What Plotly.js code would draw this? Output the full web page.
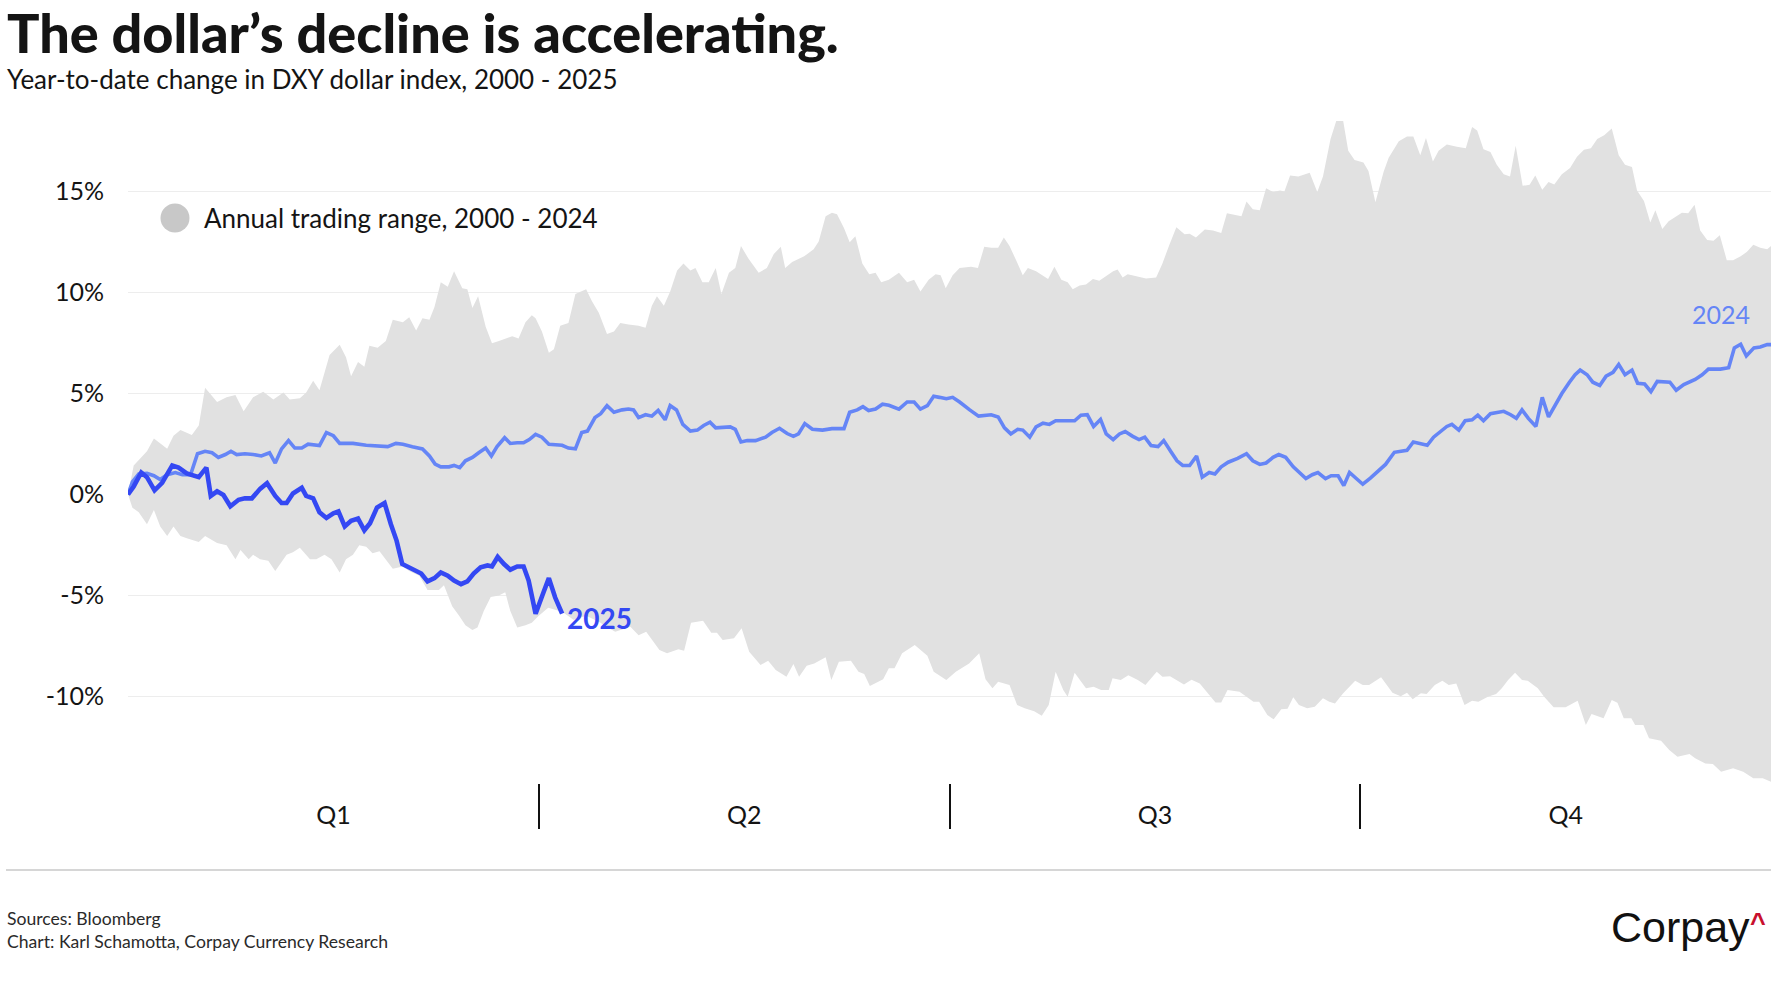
<!DOCTYPE html>
<html>
<head>
<meta charset="utf-8">
<script src="https://cdn.plot.ly/plotly-3.0.1.min.js"></script>
<style>
  html, body { margin: 0; padding: 0; background: #ffffff; }
  #chart { width: 1774px; height: 1000px; }
</style>
</head>
<body>
<div id="chart"></div>
<script>
// ---- Data (trading day of year, YTD % change) ----
const upperX = [0,0.9,3.0,4.1,6.2,7.2,8.3,10.1,11.2,12.2,14.1,15.6,17.0,18.3,19.8,21.4,23.0,24.6,25.6,27.2,28.2,29.3,30.3,31.9,33.5,34.5,35.3,36.4,37.4,38.2,39.5,40.8,41.9,43.5,44.5,45.6,46.6,47.7,48.5,49.5,50.6,51.6,52.9,53.7,54.5,55.4,56.6,57.6,58.7,59.7,60.8,61.8,62.9,63.9,
  64.5,65.5,66.6,67.4,68.4,69.7,70.8,72.5,73.4,74.5,75.8,76.9,77.9,79.2,80.8,81.9,82.9,83.7,84.8,85.8,86.9,87.9,89.0,89.8,90.9,91.9,93.0,93.9,95.1,96.1,97.0,98.2,99.8,101.1,102.2,103.3,104.0,105.1,107.0,108.5,109.3,110.4,111.4,112.2,113.3,114.2,115.1,116.2,117.3,118.3,119.2,120.4,122.0,123.3,124.4,125.4,126.7,127.8,128.6,129.4,
  130.5,131.6,133.4,134.5,135.5,136.6,137.7,138.6,139.5,140.6,141.6,142.4,143.7,145.6,146.6,147.7,148.7,149.5,150.6,151.6,152.7,153.7,154.8,155.9,156.6,157.4,158.2,159.6,161.1,162.7,163.7,164.8,165.9,167.2,168.0,169.0,170.4,171.7,173.0,173.9,175.1,176.2,177.0,178.0,179.1,180.1,181.2,182.3,183.0,183.9,185.2,186.2,187.0,188.2,189.1,190.3,191.2,192.3,193.1,194.1,
  195.5,196.3,197.4,198.7,199.5,201.1,202.4,203.4,204.5,205.4,206.5,207.4,208.7,210.3,211.7,212.7,213.5,214.5,215.6,216.6,217.7,218.7,219.6,220.7,221.8,222.7,223.8,224.8,225.7,226.9,228.2,229.3,230.4,231.5,232.5,233.6,234.8,235.9,236.9,238.0,238.8,239.9,240.9,241.7,242.8,243.8,244.9,245.9,246.9,247.9,248.8,249.9,250.9,251.9,253.0,254.0,255.2,256.2,257.2,258.3,259.4,260];
const upperY = [0,1.44,2.14,2.77,2.26,2.91,3.19,2.95,3.42,5.28,4.58,4.81,4.93,4.12,4.81,5.09,4.70,5.05,4.70,4.77,5.05,5.63,5.16,6.91,7.42,6.79,5.86,6.56,6.33,7.37,7.26,7.60,8.65,8.53,8.77,8.12,8.72,8.65,9.28,10.51,10.28,11.05,10.21,10.16,9.23,9.81,8.30,7.49,7.60,7.72,7.84,7.72,8.53,8.88,
  8.72,8.07,7.02,7.19,8.35,8.49,9.93,10.16,9.58,9.00,7.95,8.07,8.49,8.42,8.35,8.26,9.35,9.81,9.35,10.05,11.09,11.44,11.09,11.21,10.51,10.51,11.21,9.93,10.98,11.21,12.30,11.67,10.98,11.21,11.91,12.26,11.21,11.51,11.79,12.14,12.53,13.77,13.95,13.88,13.19,12.49,12.79,11.44,10.91,10.98,10.51,10.63,10.98,10.51,10.63,10.05,10.63,10.91,10.86,10.21,
  10.86,11.21,11.28,11.21,12.26,12.21,12.21,12.72,12.30,11.56,10.86,11.21,11.05,10.67,11.28,10.63,10.51,10.16,10.35,10.40,10.67,10.58,10.81,11.05,11.14,10.74,10.91,10.81,10.70,10.74,11.44,12.37,13.23,12.88,12.91,12.72,13.12,13.07,12.95,13.93,13.84,13.77,14.51,14.12,14.07,15.16,14.98,15.05,15.00,15.79,15.74,15.86,15.93,14.98,15.74,17.60,18.49,18.49,17.02,16.56,
  16.44,16.02,14.47,15.98,16.67,17.49,17.72,17.72,16.79,17.65,16.49,17.02,17.33,17.21,17.14,18.19,18.02,17.09,16.95,16.33,15.86,15.74,17.26,15.28,15.33,15.79,15.09,15.47,15.35,15.86,16.16,16.72,17.07,17.14,17.60,17.79,18.12,16.79,16.33,16.21,15.05,14.53,13.47,14.07,13.14,13.53,13.77,13.95,13.93,14.35,13.07,12.60,12.56,12.84,11.60,11.60,11.79,12.02,12.37,12.21,12.14,12.30];

const lowerX = [0,0.7,1.7,3.0,4.1,5.1,6.2,7.2,8.3,9.3,11.2,12.2,14.1,15.6,17.0,17.8,19.1,19.8,20.9,22.2,23.3,24.0,25.1,26.1,27.2,28.8,29.8,31.1,32.2,33.5,34.5,35.6,36.6,37.7,38.7,39.8,40.8,41.9,43.5,44.5,46.1,47.4,49.2,50.0,51.3,52.4,53.4,54.5,55.3,56.3,57.4,58.7,59.7,60.5,61.6,62.9,63.9,
  65.0,66.5,68.7,70.5,72.5,74.5,76.0,77.1,79.5,80.8,82.0,84.1,85.3,87.1,88.0,89.1,91.0,92.3,93.2,94.1,95.9,97.1,98.3,100.1,101.3,102.5,104.2,105.3,106.2,107.4,108.6,110.4,111.3,112.5,114.4,115.6,116.5,117.4,119.5,120.4,121.3,122.5,124.5,126.5,127.5,129.5,
  131.0,133.1,134.7,135.7,136.8,137.7,139.5,140.7,141.9,143.4,144.6,145.7,146.8,148.0,148.7,149.8,151.6,152.8,154.0,155.2,155.8,157.1,158.3,159.8,161.0,162.8,163.7,164.9,167.1,168.3,169.6,172.1,173.0,174.0,175.9,178.1,179.0,180.3,181.3,182.5,183.5,184.4,185.3,186.6,187.8,189.1,190.1,191.0,192.3,194.2,
  195.4,196.4,198.3,200.1,201.4,202.4,203.3,204.6,205.5,206.8,208.0,209.0,210.2,211.5,212.7,213.7,215.2,216.5,217.4,218.4,219.5,220.6,221.5,223.1,224.1,225.6,227.5,229.4,230.7,231.6,233.5,234.8,235.7,236.7,237.9,238.5,239.8,240.7,242.6,243.9,245.2,247.1,248.0,249.6,250.8,252.1,254.0,255.6,257.2,258.7,260];
const lowerY = [0,-0.65,-0.88,-1.47,-0.77,-1.58,-2.05,-1.58,-2.05,-2.16,-2.35,-2.05,-2.40,-2.51,-3.21,-2.74,-3.21,-2.98,-3.21,-3.28,-3.79,-3.44,-2.98,-2.86,-2.63,-3.21,-3.21,-2.98,-3.21,-3.86,-3.21,-2.98,-2.51,-2.58,-2.91,-2.81,-3.21,-3.67,-3.56,-3.79,-4.02,-4.72,-4.72,-4.49,-5.53,-6.00,-6.47,-6.70,-6.58,-5.77,-5.07,-5.00,-4.84,-5.77,-6.58,-6.47,-6.35,
  -6.00,-5.60,-5.80,-6.20,-6.00,-6.30,-6.60,-6.79,-6.54,-6.96,-6.79,-7.70,-7.86,-7.66,-7.73,-6.35,-6.25,-6.84,-6.84,-7.20,-7.12,-6.62,-7.78,-8.44,-8.23,-8.69,-9.02,-8.39,-9.02,-8.47,-8.36,-8.06,-9.18,-8.28,-8.23,-8.77,-8.89,-9.48,-9.15,-8.60,-8.60,-7.86,-7.45,-7.98,-8.77,-9.18,
  -8.77,-8.36,-7.86,-9.15,-9.59,-9.27,-9.43,-10.42,-10.58,-10.73,-10.95,-10.42,-8.77,-9.68,-10.01,-8.82,-9.59,-9.51,-9.68,-9.68,-9.10,-9.18,-8.94,-9.18,-9.43,-8.77,-9.02,-8.99,-9.40,-9.17,-9.35,-10.29,-10.29,-9.68,-9.76,-10.26,-10.26,-10.92,-11.13,-10.63,-10.60,-10.04,-10.42,-10.58,-10.50,-10.09,-10.26,-10.34,-9.84,-9.22,
  -9.43,-9.43,-9.05,-9.81,-9.98,-9.81,-10.14,-9.84,-9.88,-9.43,-9.22,-9.43,-9.35,-10.42,-10.21,-10.26,-10.01,-9.88,-9.59,-9.18,-8.82,-9.18,-9.22,-9.59,-10.01,-10.53,-10.53,-10.21,-11.41,-10.87,-11.08,-10.17,-10.31,-11.08,-11.08,-11.41,-11.41,-12.07,-12.19,-12.65,-12.98,-12.85,-13.06,-13.31,-13.34,-13.72,-13.55,-13.72,-14.05,-14.05,-14.22];

const x2024 = [0,0.7,1.7,3.0,4.1,5.1,6.2,7.5,8.6,9.9,11.0,12.2,13.3,14.3,15.4,16.3,17.2,18.5,19.8,21.1,22.4,23.3,24.3,25.4,26.4,27.5,28.5,30.3,31.4,32.5,33.5,35.6,37.7,39.8,41.1,42.4,43.5,45.0,46.6,47.7,48.6,49.5,50.8,51.6,52.5,53.4,54.5,55.5,56.6,57.5,58.4,59.6,60.5,61.6,62.6,63.5,64.5,
  65.5,66.6,68.7,69.7,70.8,71.8,72.7,73.9,74.8,75.8,76.9,78.2,79.2,80.0,80.8,81.9,82.9,83.9,85.0,85.8,86.8,87.8,89.0,90.1,91.1,92.1,93.0,94.3,95.3,96.1,97.0,98.0,99.3,100.9,101.9,103.1,104.3,105.3,106.1,107.1,108.3,109.9,111.4,113.3,114.2,115.4,116.3,117.2,118.3,119.4,120.4,122.0,123.3,124.4,125.4,126.5,127.5,128.4,129.5,
  130.5,131.6,133.2,134.6,136.6,137.7,138.7,139.7,140.8,141.6,142.7,143.7,144.8,145.8,146.8,148.5,149.8,150.8,151.8,152.8,153.9,154.8,155.9,156.9,157.8,159.0,160.0,160.9,161.9,163.0,163.9,165.1,166.0,166.9,168.0,169.1,170.0,171.1,172.0,173.0,174.1,175.6,177.0,178.0,179.1,180.1,181.2,182.1,183.2,184.4,185.3,186.4,187.4,188.3,189.5,190.4,191.5,192.4,193.3,194.5,
  195.4,196.6,197.6,199.0,200.4,202.4,203.4,205.6,206.6,207.6,208.7,209.5,210.6,211.6,212.7,213.6,214.5,215.6,216.6,217.7,218.8,219.7,220.6,221.6,222.8,223.8,224.8,225.9,226.9,228.1,229.0,229.8,230.9,231.8,232.9,233.9,235.0,235.9,236.9,238.0,238.9,240.0,241.0,242.0,244.0,245.0,246.2,248.0,249.1,250.1,252.0,253.3,254.2,255.2,256.1,257.3,258.3,259.4,260];
const y2024 = [0,0.63,1.02,1.05,0.93,0.74,0.98,1.09,0.98,0.98,2.02,2.14,2.07,1.84,1.98,2.14,1.98,2.02,1.98,1.91,2.07,1.56,2.26,2.67,2.30,2.30,2.49,2.42,3.07,2.91,2.53,2.53,2.44,2.42,2.37,2.53,2.49,2.37,2.26,1.91,1.51,1.37,1.37,1.44,1.33,1.67,1.84,2.07,2.30,1.91,2.37,2.81,2.53,2.56,2.56,2.72,2.98,
  2.84,2.49,2.44,2.30,2.26,3.07,3.14,3.81,4.00,4.40,4.07,4.19,4.23,4.19,3.81,3.95,3.88,4.16,3.70,4.40,4.19,3.47,3.14,3.19,3.42,3.58,3.30,3.35,3.35,3.23,2.60,2.67,2.67,2.84,3.07,3.28,3.02,2.88,3.00,3.51,3.23,3.19,3.26,3.26,4.07,4.19,4.35,4.16,4.23,4.47,4.42,4.23,4.58,4.58,4.23,4.40,4.86,4.81,4.74,
  4.81,4.58,4.19,3.88,3.95,3.84,3.30,3.00,3.23,3.19,2.84,3.35,3.53,3.47,3.65,3.65,3.65,3.93,3.95,3.37,3.72,3.00,2.72,3.00,3.12,2.88,2.72,2.84,2.42,2.37,2.67,2.09,1.67,1.44,1.44,1.91,0.86,1.09,1.02,1.37,1.60,1.79,2.02,1.67,1.49,1.56,1.84,1.98,1.84,1.37,1.09,0.79,0.98,1.09,0.79,0.93,0.93,0.44,1.09,0.74,
  0.51,0.81,1.09,1.49,2.09,2.19,2.60,2.44,2.84,3.07,3.37,3.47,3.19,3.65,3.70,3.93,3.65,4.00,4.05,4.12,3.95,3.77,4.19,3.77,3.37,4.81,3.84,4.47,5.00,5.56,5.93,6.16,5.93,5.56,5.40,5.86,6.05,6.44,5.93,6.16,5.51,5.47,5.09,5.60,5.56,5.16,5.44,5.70,5.93,6.21,6.21,6.28,7.26,7.44,6.86,7.26,7.30,7.42,7.42];

const x2025 = [0,0.9,2.1,3.0,4.2,5.4,7.0,8.0,9.3,11.2,12.4,13.1,14.1,15.1,16.2,17.5,18.5,19.6,20.9,22.0,23.3,24.3,25.1,26.1,27.5,28.2,29.3,30.3,31.4,32.5,33.3,34.3,35.3,36.4,37.4,38.3,39.4,40.6,41.6,42.5,43.4,44.8,46.4,47.4,48.5,49.5,50.6,51.6,52.7,53.7,54.7,55.8,56.9,57.6,58.5,59.5,60.5,61.6,62.6,63.4,64.5,65.8,66.6,67.6,68.7];
const y2025 = [0,0.40,1.09,0.86,0.21,0.58,1.44,1.33,1.05,0.86,1.33,-0.07,0.16,-0.02,-0.58,-0.26,-0.19,-0.19,0.28,0.56,-0.07,-0.42,-0.42,0.05,0.33,-0.07,-0.19,-0.88,-1.16,-0.93,-0.84,-1.58,-1.30,-1.19,-1.77,-1.42,-0.65,-0.42,-1.47,-2.28,-3.44,-3.67,-3.91,-4.30,-4.14,-3.86,-4.02,-4.26,-4.44,-4.30,-3.91,-3.60,-3.51,-3.56,-3.09,-3.44,-3.72,-3.56,-3.56,-4.26,-5.90,-4.80,-4.14,-5.10,-5.90];

const quarterMid = [32.5, 97.5, 162.5, 227.5];
const quarterText = ['Q1', 'Q2', 'Q3', 'Q4'];
const quarterBounds = [65, 130, 195];
const yTickVals = [-10, -5, 0, 5, 10, 15];
const yTickText = ['-10%', '-5%', '0%', '5%', '10%', '15%'];

// ---- Styles ----
const FONT = 'Lato, "Noto Sans", "DejaVu Sans", sans-serif';
const C2024 = '#6585f6';
const C2025 = '#3448f3';
const CFILL = '#e1e1e1';
const TEXT = '#141414';

const bandX = upperX.concat(lowerX.slice().reverse());
const bandY = upperY.concat(lowerY.slice().reverse());

const traces = [
  { x: bandX, y: bandY, type: 'scatter', mode: 'lines', fill: 'toself',
    fillcolor: CFILL, line: { width: 0, color: CFILL }, hoverinfo: 'skip',
    name: 'Annual trading range, 2000 - 2024', showlegend: false },
  { x: x2024, y: y2024, type: 'scatter', mode: 'lines',
    line: { color: C2024, width: 3.6, shape: 'linear' }, name: '2024', showlegend: false },
  { x: x2025, y: y2025, type: 'scatter', mode: 'lines',
    line: { color: C2025, width: 4.6, shape: 'linear' }, name: '2025', showlegend: false }
];

// plot area geometry (pixels) for paper-space text placement
const L = 128, R = 3, T = 100, B = 217, W = 1774, H = 1000;
const PW = W - L - R, PH = H - T - B;
const px = (xp) => (xp - L) / PW;
const py = (yp) => (H - B - yp) / PH;

const n24 = x2024.length - 1, n25 = x2025.length - 1;

const layout = {
  width: W, height: H,
  margin: { l: L, r: R, t: T, b: B, pad: 0 },
  paper_bgcolor: '#ffffff', plot_bgcolor: '#ffffff',
  font: { family: FONT, color: TEXT },
  showlegend: false,
  xaxis: {
    range: [0, 260], showgrid: false, zeroline: false, showline: false,
    tickmode: 'array', tickvals: quarterMid, ticktext: quarterText,
    ticks: 'outside', ticklen: 10, tickcolor: 'rgba(0,0,0,0)',
    tickfont: { family: FONT, size: 25, color: TEXT },
    minor: { tickmode: 'array', tickvals: quarterBounds, ticks: 'outside',
             ticklen: 45, tickwidth: 2, tickcolor: '#111111', showgrid: false },
    fixedrange: true
  },
  yaxis: {
    range: [-14.28, 19.53], tickmode: 'array', tickvals: yTickVals, ticktext: yTickText,
    showgrid: true, gridcolor: '#ededed', gridwidth: 1.5, zeroline: false, showline: false,
    ticks: 'outside', ticklen: 18, tickcolor: 'rgba(0,0,0,0)',
    tickfont: { family: FONT, size: 25, color: TEXT },
    fixedrange: true
  },
  shapes: [
    { type: 'line', xref: 'paper', yref: 'paper', x0: px(6), x1: px(1771), y0: py(870), y1: py(870),
      line: { color: '#d6d6d6', width: 2 } },
    { type: 'circle', xref: 'paper', yref: 'paper', xsizemode: 'pixel', ysizemode: 'pixel',
      xanchor: px(175), yanchor: py(218), x0: -14.5, x1: 14.5, y0: -14.5, y1: 14.5,
      fillcolor: '#c8c8c8', line: { width: 0 } }
  ],
  annotations: [
    { xref: 'paper', yref: 'paper', x: px(5), y: py(-2), xanchor: 'left', yanchor: 'top',
      text: 'The dollar’s decline is accelerating.', showarrow: false,
      font: { family: FONT, size: 54, color: TEXT, weight: 900 } },
    { xref: 'paper', yref: 'paper', x: px(5), y: py(79), xanchor: 'left', yanchor: 'middle',
      text: 'Year-to-date change in DXY dollar index, 2000 - 2025', showarrow: false,
      font: { family: FONT, size: 26, color: TEXT } },
    { xref: 'paper', yref: 'paper', x: px(202), y: py(218), xanchor: 'left', yanchor: 'middle',
      text: 'Annual trading range, 2000 - 2024', showarrow: false,
      font: { family: FONT, size: 26, color: TEXT } },
    { xref: 'x', yref: 'y', x: x2024[n24], y: y2024[n24], xanchor: 'right', yanchor: 'middle',
      xshift: -19, yshift: 31, text: '2024', showarrow: false,
      font: { family: FONT, size: 25, color: C2024 } },
    { xref: 'x', yref: 'y', x: x2025[n25], y: y2025[n25], xanchor: 'left', yanchor: 'middle',
      xshift: 3, yshift: -4, text: '<b>2025</b>', showarrow: false,
      font: { family: FONT, size: 28, color: C2025 } },
    { xref: 'paper', yref: 'paper', x: px(5), y: py(918), xanchor: 'left', yanchor: 'middle',
      text: 'Sources: Bloomberg', showarrow: false,
      font: { family: FONT, size: 17.6, color: '#2a2a2a' } },
    { xref: 'paper', yref: 'paper', x: px(5), y: py(941), xanchor: 'left', yanchor: 'middle',
      text: 'Chart: Karl Schamotta, Corpay Currency Research', showarrow: false,
      font: { family: FONT, size: 17.6, color: '#2a2a2a' } },
    { xref: 'paper', yref: 'paper', x: px(1752), y: py(927), xanchor: 'right', yanchor: 'middle',
      text: 'Corpay', showarrow: false,
      font: { family: '"Liberation Sans", Arial, sans-serif', size: 43, color: '#111111' } },
    { xref: 'paper', yref: 'paper', x: px(1768), y: py(923), xanchor: 'right', yanchor: 'middle',
      text: '<b>^</b>', showarrow: false,
      font: { family: '"Liberation Sans", Arial, sans-serif', size: 27, color: '#c8102e' } }
  ]
};

Plotly.newPlot('chart', traces, layout, { displayModeBar: false, staticPlot: true });
</script>
</body>
</html>
